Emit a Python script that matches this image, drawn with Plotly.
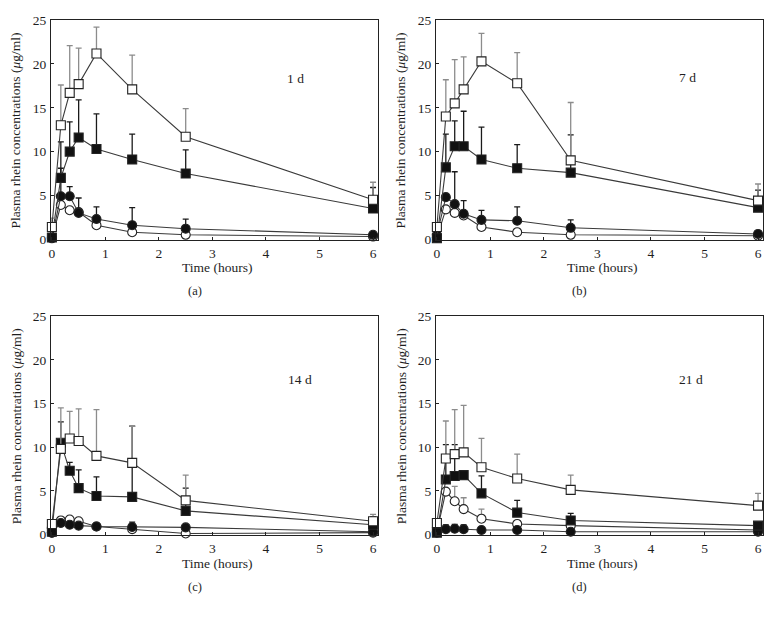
import plotly.graph_objects as go

# ---------------- data ----------------
times = [0, 0.167, 0.333, 0.5, 0.833, 1.5, 2.5, 6]
x_ticks = [0, 1, 2, 3, 4, 5, 6]
y_ticks = [0, 5, 10, 15, 20, 25]
panel_tags = ["1 d", "7 d", "14 d", "21 d"]
panel_letters = ["(a)", "(b)", "(c)", "(d)"]

# panel a (1 d)
open_sq_a = [1.4, 13.0, 16.7, 17.7, 21.2, 17.1, 11.7, 4.5]
open_sq_a_err = [1.0, 4.6, 5.4, 4.1, 3.0, 3.9, 3.2, 2.0]
filled_sq_a = [0.2, 7.0, 10.0, 11.6, 10.3, 9.1, 7.5, 3.5]
filled_sq_a_err = [0, 4.1, 3.4, 4.3, 4.0, 2.9, 2.7, 2.4]
filled_ci_a = [0.2, 4.9, 4.9, 3.0, 2.3, 1.6, 1.2, 0.5]
filled_ci_a_err = [0, 3.2, 1.1, 1.7, 1.4, 2.0, 1.1, 0]
open_ci_a = [0.1, 3.9, 3.3, 3.1, 1.6, 0.8, 0.5, 0.3]
open_ci_a_err = [0, 0, 0, 0, 0, 0, 0, 0]

# panel b (7 d)
open_sq_b = [1.4, 14.0, 15.5, 17.1, 20.3, 17.8, 9.0, 4.4]
open_sq_b_err = [0, 4.2, 5.0, 3.7, 3.2, 3.5, 6.6, 1.9]
filled_sq_b = [0.1, 8.2, 10.6, 10.6, 9.1, 8.1, 7.6, 3.6]
filled_sq_b_err = [0, 3.8, 2.9, 4.0, 3.7, 2.7, 4.3, 2.0]
filled_ci_b = [0.5, 4.8, 4.0, 2.9, 2.2, 2.1, 1.3, 0.6]
filled_ci_b_err = [0, 0, 3.7, 1.5, 1.1, 1.6, 0.9, 0]
open_ci_b = [0.2, 3.4, 3.0, 2.7, 1.4, 0.8, 0.5, 0.4]
open_ci_b_err = [0, 0, 0, 0, 0, 0, 0, 0]

# panel c (14 d)
open_sq_c = [1.2, 9.8, 11.0, 10.7, 9.0, 8.2, 3.9, 1.5]
open_sq_c_err = [0, 4.7, 3.1, 3.7, 5.3, 4.2, 2.9, 0.8]
filled_sq_c = [0.3, 10.5, 7.3, 5.3, 4.4, 4.3, 2.7, 1.1]
filled_sq_c_err = [0, 2.4, 0.95, 2.1, 2.2, 8.1, 2.6, 0.9]
filled_ci_c = [0.2, 1.3, 1.1, 1.0, 0.9, 0.85, 0.8, 0.3]
filled_ci_c_err = [0, 0, 0, 0, 0.4, 0.55, 0, 0]
open_ci_c = [0.2, 1.6, 1.7, 1.5, 0.9, 0.6, 0.1, 0.2]
open_ci_c_err = [0, 0, 0, 0, 0, 0, 0, 0]

# panel d (21 d)
open_sq_d = [1.3, 8.7, 9.2, 9.4, 7.7, 6.4, 5.1, 3.3]
open_sq_d_err = [0.5, 4.3, 5.1, 5.4, 3.3, 2.8, 1.7, 1.4]
filled_sq_d = [0.2, 6.3, 6.7, 6.8, 4.7, 2.5, 1.6, 1.0]
filled_sq_d_err = [0, 4.0, 3.6, 0, 2.0, 1.4, 0.8, 0]
filled_ci_d = [0.2, 0.6, 0.65, 0.6, 0.5, 0.5, 0.3, 0.3]
filled_ci_d_err = [0, 0.5, 0.5, 0.5, 0, 0, 0, 0]
open_ci_d = [0.3, 4.9, 3.8, 2.9, 1.8, 1.2, 1.0, 0.5]
open_ci_d_err = [0, 0, 1.7, 1.3, 1.1, 0, 0, 0]

panels = [
    (open_sq_a, open_sq_a_err, filled_sq_a, filled_sq_a_err,
     filled_ci_a, filled_ci_a_err, open_ci_a, open_ci_a_err),
    (open_sq_b, open_sq_b_err, filled_sq_b, filled_sq_b_err,
     filled_ci_b, filled_ci_b_err, open_ci_b, open_ci_b_err),
    (open_sq_c, open_sq_c_err, filled_sq_c, filled_sq_c_err,
     filled_ci_c, filled_ci_c_err, open_ci_c, open_ci_c_err),
    (open_sq_d, open_sq_d_err, filled_sq_d, filled_sq_d_err,
     filled_ci_d, filled_ci_d_err, open_ci_d, open_ci_d_err),
]

# ---------------- layout geometry (pixels) ----------------
W, H = 772, 621
FONT = "Liberation Serif, Times New Roman, serif"
TXT = "#1e1e1e"
px_x = [(49, 377), (435, 763), (49, 377), (435, 763)]
px_y = [(13, 238), (13, 238), (316, 540), (316, 540)]
tag_pos = [(4.56, 18.3), (4.69, 18.5), (4.64, 17.7), (4.75, 17.7)]

fig = go.Figure()

LINE_C = "#3a3a3a"
styles = [
    # symbol, fill, errcolor
    ("square", "white", "#8c8c8c"),
    ("square", "#111111", "#1a1a1a"),
    ("circle", "#111111", "#1a1a1a"),
    ("circle", "white", "#8c8c8c"),
]

annotations = []
for i, data in enumerate(panels):
    ax = "" if i == 0 else str(i + 1)
    xa, ya = "x" + ax, "y" + ax
    series = [(data[0], data[1]), (data[2], data[3]), (data[4], data[5]), (data[6], data[7])]
    order = [3, 2, 1, 0]
    for k in order:
        vals, errs = series[k]
        sym, fill, ecol = styles[k]
        fig.add_trace(go.Scatter(
            x=times, y=vals, xaxis=xa, yaxis=ya, mode="lines+markers",
            line=dict(color=LINE_C, width=1.1),
            marker=dict(symbol=sym, size=9, color=fill,
                        line=dict(color="#222222", width=1.1)),
            error_y=dict(type="data", array=errs, arrayminus=[0] * len(errs),
                         symmetric=False, color=ecol, thickness=1.3, width=3),
            cliponaxis=False, showlegend=False, hoverinfo="skip",
        ))

    x0, x1 = px_x[i]
    y0, y1 = px_y[i]
    dom_x = [x0 / W, x1 / W]
    dom_y = [1 - y1 / H, 1 - y0 / H]
    axis_common = dict(showline=True, linecolor="#222222", linewidth=1, mirror=True,
                       ticks="inside", ticklen=3, tickcolor="#222222", showgrid=False,
                       zeroline=False, tickfont=dict(family=FONT, size=13.5, color=TXT))
    fig.layout["xaxis" + ax] = dict(domain=dom_x, anchor=ya, range=[-0.019, 6.093],
                                    tickvals=x_ticks, ticklabelstandoff=1, **axis_common)
    fig.layout["yaxis" + ax] = dict(domain=dom_y, anchor=xa, range=[-0.05, 25.05],
                                    tickvals=y_ticks, ticklabelstandoff=1, **axis_common)

    annotations.append(dict(x=tag_pos[i][0], y=tag_pos[i][1], xref=xa, yref=ya,
                            text=panel_tags[i], showarrow=False,
                            font=dict(family=FONT, size=13.5, color=TXT)))
    cx = (x0 + x1) / 2 + 3
    annotations.append(dict(x=cx / W, y=1 - (y1 + 29) / H, xref="paper", yref="paper",
                            xanchor="center", yanchor="middle",
                            text="Time (hours)", showarrow=False,
                            font=dict(family=FONT, size=13.5, color=TXT)))
    annotations.append(dict(x=(x0 - 49 + 193) / W, y=1 - (y1 + 53) / H, xref="paper", yref="paper",
                            xanchor="center", yanchor="middle",
                            text=panel_letters[i], showarrow=False,
                            font=dict(family=FONT, size=12.5, color=TXT)))
    annotations.append(dict(x=(x0 - 35) / W, y=1 - ((y0 + y1) / 2 + 1) / H, xref="paper", yref="paper",
                            xanchor="center", yanchor="middle",
                            text="Plasma rhein concentrations (<i>μ</i>g/ml)", textangle=-90,
                            showarrow=False,
                            font=dict(family=FONT, size=13.5, color=TXT)))

fig.update_layout(width=W, height=H, margin=dict(l=0, r=0, t=0, b=0),
                  paper_bgcolor="white", plot_bgcolor="white",
                  annotations=annotations)

fig.write_html("out.html", config={"displayModeBar": False},
               post_script="document.body.style.margin='0';document.body.style.overflow='hidden';")
